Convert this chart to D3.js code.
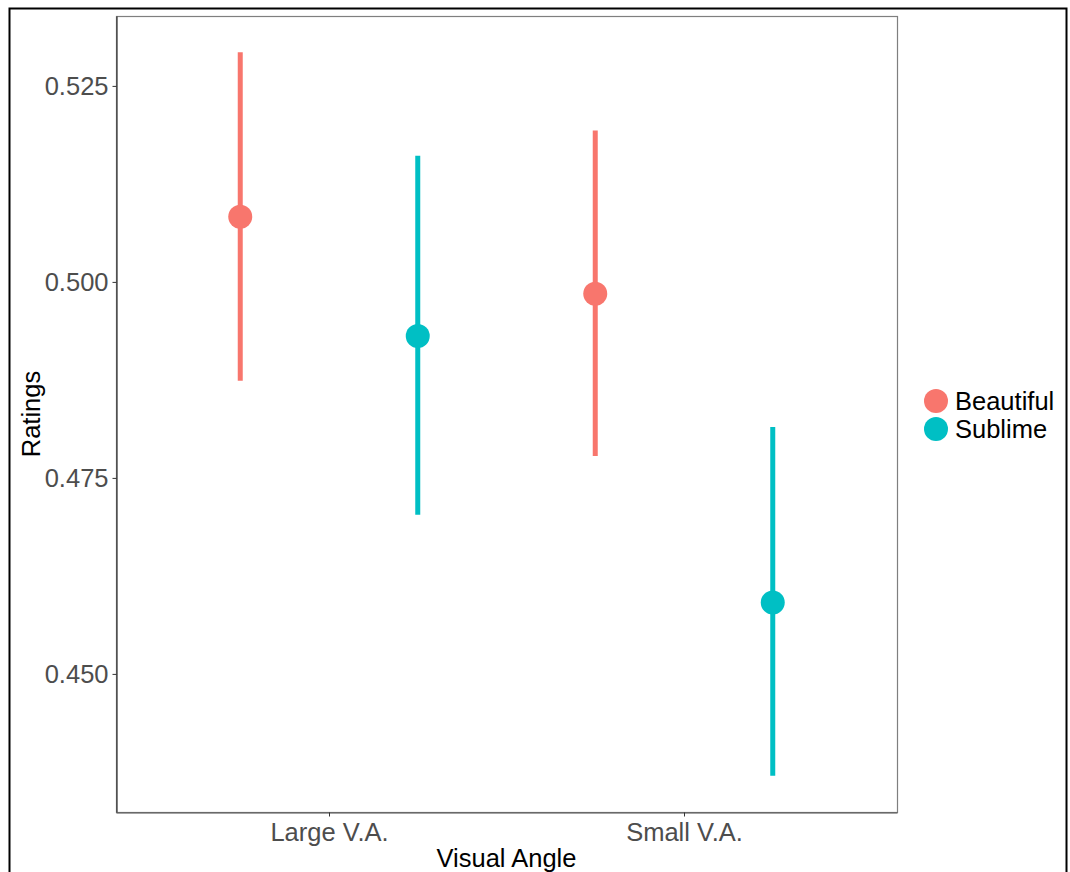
<!DOCTYPE html>
<html>
<head>
<meta charset="utf-8">
<script src="https://cdn.jsdelivr.net/npm/d3@7"></script>
<style>
  html, body { margin: 0; padding: 0; background: #fff; }
  svg { display: block; font-family: Arial, "Liberation Sans", sans-serif; }
</style>
</head>
<body>
<svg id="chart" width="1070" height="872"></svg>
<script>
// Mean ratings with confidence intervals by visual angle and stimulus type
const angles = ["Large V.A.", "Small V.A."];
const types = ["Beautiful", "Sublime"];
const means = {
  "Beautiful": [0.5083, 0.4985],
  "Sublime":   [0.4931, 0.4591]
};
const lower = {
  "Beautiful": [0.4874, 0.4778],
  "Sublime":   [0.4703, 0.4370]
};
const upper = {
  "Beautiful": [0.5293, 0.5193],
  "Sublime":   [0.5161, 0.4815]
};
const yTicks = [0.450, 0.475, 0.500, 0.525];
const colors = ["#F8766D", "#00BFC4"];

const svg = d3.select("#chart");

// outer frame
svg.append("rect")
  .attr("x", 9.5).attr("y", 8.5)
  .attr("width", 1057).attr("height", 880)
  .attr("fill", "none").attr("stroke", "#000").attr("stroke-width", 2);

const panel = { left: 116, top: 16, right: 897, bottom: 812 };

// y range padded 5% beyond the interval extremes
const allVals = types.flatMap(t => lower[t].concat(upper[t]));
const yMin = d3.min(allVals), yMax = d3.max(allVals);
const pad = (yMax - yMin) * 0.05;
const y = d3.scaleLinear()
  .domain([yMin - pad, yMax + pad])
  .range([panel.bottom, panel.top]);

// discrete positions with 0.6 units of expansion on each side
const x = d3.scalePoint()
  .domain(angles)
  .range([panel.left, panel.right])
  .padding(0.6);

const colorScale = d3.scaleOrdinal().domain(types).range(colors);
const unit = x.step();
const dodge = d3.scalePoint().domain(types).range([-0.25 * unit, 0.25 * unit]);

// panel border
svg.append("rect")
  .attr("x", panel.left + 0.5).attr("y", panel.top + 0.5)
  .attr("width", panel.right - panel.left).attr("height", panel.bottom - panel.top)
  .attr("fill", "#fff").attr("stroke", "#7f7f7f").attr("stroke-width", 1.2);

// axes
const yAxis = d3.axisLeft(y).tickValues(yTicks).tickFormat(d3.format(".3f"))
  .tickSize(4).tickSizeOuter(0).tickPadding(4);
const gy = svg.append("g").attr("transform", `translate(${panel.left + 0.5},0)`).call(yAxis);
gy.select(".domain").attr("stroke", "#333").attr("stroke-width", 1.2);
gy.selectAll(".tick line").attr("stroke", "#333");
gy.selectAll(".tick text").attr("fill", "#4d4d4d").style("font-size", "25.5px")
  .attr("font-family", "Arial, 'Liberation Sans', sans-serif");

const xAxis = d3.axisBottom(x).tickSize(4).tickSizeOuter(0).tickPadding(6);
const gx = svg.append("g").attr("transform", `translate(0,${panel.bottom + 0.5})`).call(xAxis);
gx.select(".domain").attr("stroke", "#555").attr("stroke-width", 1.2);
gx.selectAll(".tick line").attr("stroke", "#333");
gx.selectAll(".tick text").attr("fill", "#4d4d4d").style("font-size", "25.5px")
  .attr("font-family", "Arial, 'Liberation Sans', sans-serif");

// axis titles
svg.append("text")
  .attr("x", (panel.left + panel.right) / 2).attr("y", 867)
  .attr("text-anchor", "middle").style("font-size", "25.5px").attr("fill", "#000")
  .text("Visual Angle");
svg.append("text")
  .attr("transform", `translate(40,${(panel.top + panel.bottom) / 2}) rotate(-90)`)
  .attr("text-anchor", "middle").style("font-size", "25.5px").attr("fill", "#000")
  .text("Ratings");

// error bars and points
const rows = [];
types.forEach(t => angles.forEach((a, i) => rows.push({
  type: t, angle: a, mean: means[t][i], lo: lower[t][i], hi: upper[t][i]
})));

const g = svg.append("g");
g.selectAll("line.err").data(rows).enter().append("line")
  .attr("class", "err")
  .attr("x1", d => x(d.angle) + dodge(d.type))
  .attr("x2", d => x(d.angle) + dodge(d.type))
  .attr("y1", d => y(d.lo)).attr("y2", d => y(d.hi))
  .attr("stroke", d => colorScale(d.type)).attr("stroke-width", 5);
g.selectAll("circle.pt").data(rows).enter().append("circle")
  .attr("class", "pt")
  .attr("cx", d => x(d.angle) + dodge(d.type))
  .attr("cy", d => y(d.mean))
  .attr("r", 12)
  .attr("fill", d => colorScale(d.type));

// legend
const leg = svg.append("g").attr("transform", "translate(936,401)");
types.forEach((t, i) => {
  leg.append("circle").attr("cx", 0).attr("cy", i * 28).attr("r", 12).attr("fill", colorScale(t));
  leg.append("text").attr("x", 19).attr("y", i * 28 + 9)
    .style("font-size", "25.5px").attr("fill", "#000").text(t);
});
</script>
</body>
</html>
